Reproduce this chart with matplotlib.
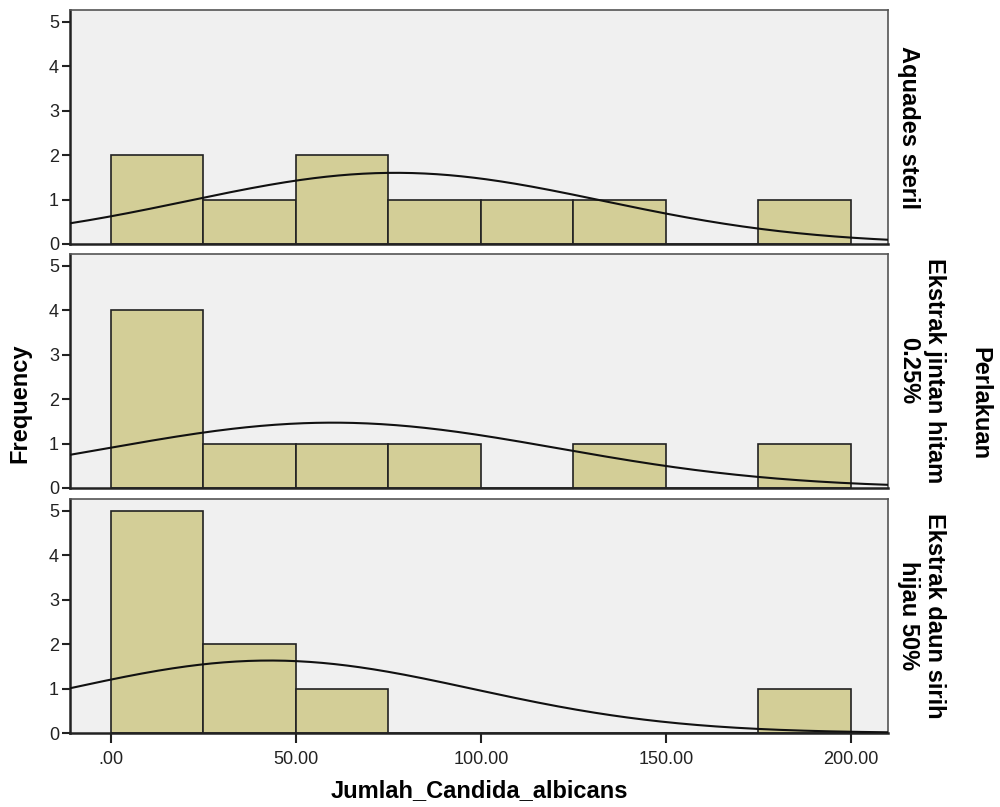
import numpy as np
import matplotlib.pyplot as plt

plt.rcParams['font.family'] = ['Liberation Sans', 'DejaVu Sans']

bin_edges = [0, 25, 50, 75, 100, 125, 150, 175, 200]
groups = ['Aquades steril', 'Ekstrak jintan hitam\n0.25%', 'Ekstrak daun sirih\nhijau 50%']
counts = [
    [2, 1, 2, 1, 1, 1, 0, 1],
    [4, 1, 1, 1, 0, 1, 0, 1],
    [5, 2, 1, 0, 0, 0, 0, 1],
]
# normal curve parameters per group (mean, std, n)
means = [77.0, 60.0, 43.0]
stds = [56.0, 61.0, 55.0]
ns = [9, 9, 9]
xticks = [0, 50, 100, 150, 200]
xticklabels = ['.00', '50.00', '100.00', '150.00', '200.00']

fig = plt.figure(figsize=(10, 8.07), dpi=100)
bottoms = [1 - 244 / 807, 1 - 488 / 807, 1 - 733 / 807]
h = 234 / 807
bar_col = '#d3ce97'
xs = np.linspace(-11, 210, 400)
width = bin_edges[1] - bin_edges[0]

for i in range(3):
    ax = fig.add_axes([0.07, bottoms[i], 0.818, h])
    ax.set_facecolor('#f0f0f0')
    ax.bar(bin_edges[:-1], counts[i], width=width, align='edge', color=bar_col,
           edgecolor='#222222', linewidth=1.2, zorder=2)
    y = ns[i] * width / (stds[i] * np.sqrt(2 * np.pi)) * np.exp(-0.5 * ((xs - means[i]) / stds[i]) ** 2)
    ax.plot(xs, y, color='#111111', linewidth=1.5, zorder=3)
    ax.set_xlim(-11, 210)
    ax.set_ylim(0, 5.27)
    ax.set_yticks(range(6))
    ax.tick_params(axis='y', labelsize=13, length=6, width=1.5, direction='out', pad=2, colors='#222222')
    for s in ['top', 'right']:
        ax.spines[s].set_color('#555555')
        ax.spines[s].set_linewidth(1.2)
    for s in ['left', 'bottom']:
        ax.spines[s].set_color('#222222')
        ax.spines[s].set_linewidth(1.8)
    if i < 2:
        ax.set_xticks([])
    else:
        ax.set_xticks(xticks)
        ax.set_xticklabels(xticklabels)
        ax.tick_params(axis='x', labelsize=13, length=7, width=1.5, direction='out', pad=6, colors='#222222')
    lx = 1.025 if '\n' not in groups[i] else 1.041
    ax.text(lx, 0.5, groups[i], transform=ax.transAxes, rotation=-90, ha='center', va='center',
            fontsize=17, fontweight='bold', linespacing=1.15)

fig.text(0.479, 0.006, 'Jumlah_Candida_albicans', ha='center', va='bottom', fontsize=17, fontweight='bold')
fig.text(0.02, 0.5, 'Frequency', rotation=90, ha='center', va='center', fontsize=17, fontweight='bold')
fig.text(0.98, 0.5, 'Perlakuan', rotation=-90, ha='center', va='center', fontsize=17, fontweight='bold')

plt.savefig('out.png', dpi=100)
